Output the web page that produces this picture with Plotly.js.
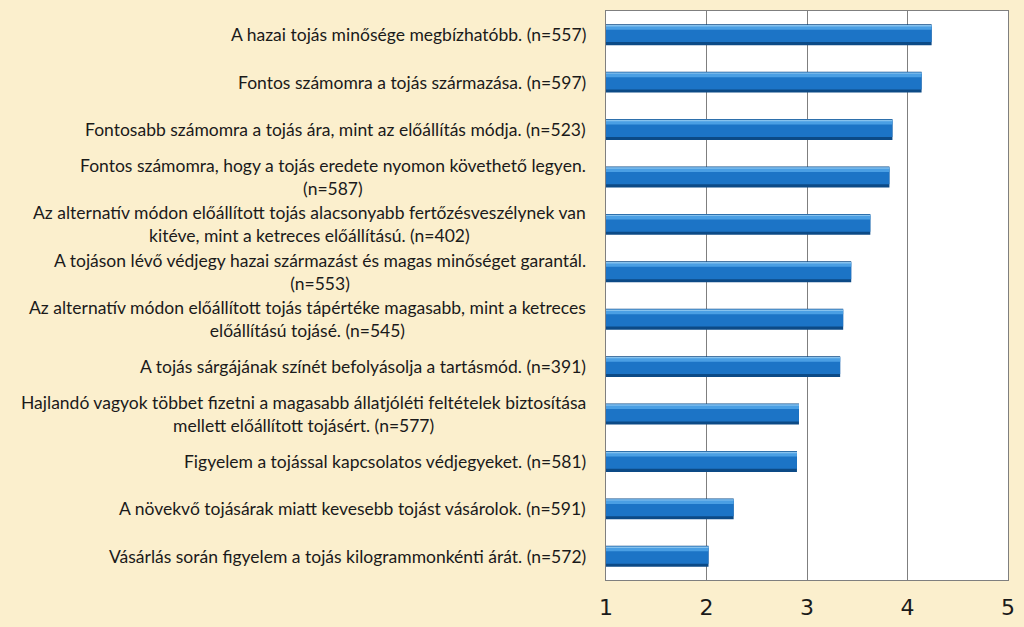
<!DOCTYPE html>
<html><head><meta charset="utf-8">
<script src="https://cdn.plot.ly/plotly-3.0.1.min.js"></script>
<style>html,body{margin:0;padding:0;background:#FBEFCD;}</style>
</head><body>
<div id="chart" style="width:1024px;height:627px;"></div>
<script>
const categories = [
  "A hazai tojás minősége megbízhatóbb. (n=557)",
  "Fontos számomra a tojás származása. (n=597)",
  "Fontosabb számomra a tojás ára, mint az előállítás módja. (n=523)",
  "Fontos számomra, hogy a tojás eredete nyomon követhető legyen.<br>(n=587)",
  "Az alternatív módon előállított tojás alacsonyabb fertőzésveszélynek van<br>kitéve, mint a ketreces előállítású. (n=402)",
  "A tojáson lévő védjegy hazai származást és magas minőséget garantál.<br>(n=553)",
  "Az alternatív módon előállított tojás tápértéke magasabb, mint a ketreces<br>előállítású tojásé. (n=545)",
  "A tojás sárgájának színét befolyásolja a tartásmód. (n=391)",
  "Hajlandó vagyok többet fizetni a magasabb állatjóléti feltételek biztosítása<br>mellett előállított tojásért. (n=577)",
  "Figyelem a tojással kapcsolatos védjegyeket. (n=581)",
  "A növekvő tojásárak miatt kevesebb tojást vásárolok. (n=591)",
  "Vásárlás során figyelem a tojás kilogrammonkénti árát. (n=572)"
];
const values = [4.24, 4.14, 3.85, 3.82, 3.63, 3.44, 3.36, 3.33, 2.92, 2.90, 2.27, 2.02];
const tickVals = [1, 2, 3, 4, 5];

const ids = categories.map((c, i) => "c" + i);
const base = 1;
function layer(width, offset, color) {
  return {
    type: "bar", orientation: "h", y: ids, x: values.map(v => v - base), base: base,
    width: width, offset: offset, marker: {color: color, line: {width: 0}},
    hoverinfo: "skip", showlegend: false
  };
}
const traces = [
  layer(0.44, -0.22, "#0C4A86"),
  layer(0.36, -0.205, "#1C74C6"),
  layer(0.08, -0.185, "#4A9FE4"),
  layer(0.03, -0.205, "#86C2EE")
];

const annotations = ids.map((id, i) => ({
  xref: "paper", yref: "y", x: 0, y: id, xanchor: "right", yanchor: "middle",
  xshift: -18, text: categories[i], showarrow: false, align: "center",
  font: {family: "Lato, 'Open Sans', sans-serif", size: 17.5, color: "#1a1a1a"}
}));

const layout = {
  width: 1024, height: 627,
  paper_bgcolor: "#FBEFCD", plot_bgcolor: "#FFFFFF",
  margin: {l: 606, r: 16, t: 11, b: 47},
  barmode: "overlay",
  xaxis: {
    range: [1, 5], tickvals: tickVals, showgrid: true, gridcolor: "#7f7f7f", gridwidth: 1,
    zeroline: false, showline: true, linecolor: "#7f7f7f", linewidth: 1, mirror: true,
    ticks: "", ticklabelstandoff: 8,
    tickfont: {family: "'DejaVu Sans', sans-serif", size: 22, color: "#1a1a1a"}
  },
  yaxis: {
    type: "category", autorange: "reversed", showticklabels: false, showgrid: false,
    zeroline: false, showline: true, linecolor: "#7f7f7f", mirror: true, ticks: ""
  },
  annotations: annotations
};
Plotly.newPlot("chart", traces, layout, {displayModeBar: false, staticPlot: true});
</script>
</body></html>
